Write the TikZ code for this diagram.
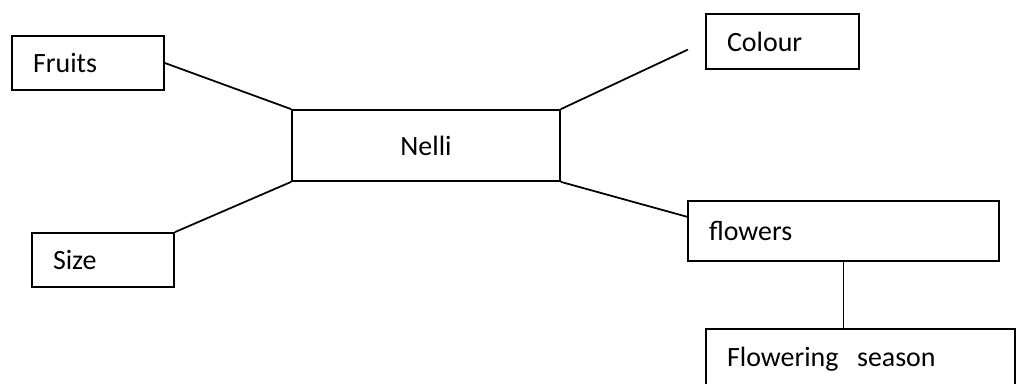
\documentclass[tikz,border=0pt]{standalone}
\usepackage{fontspec}
\setmainfont{Carlito}
\usetikzlibrary{calc}

\begin{document}
\begin{tikzpicture}[x=0.02cm,y=-0.02cm,
  box/.style={draw, line width=1pt, inner xsep=0.42cm, align=left,
    font=\fontsize{15.9}{19}\selectfont},
  link/.style={line width=1pt}]
  \useasboundingbox (0,0) rectangle (1016,383);
  % centre box
  \node[box, align=center, text width=4.52cm, minimum height=1.42cm] (nelli) at (426,145.5) {Nelli};
  % left side
  \node[box, text width=2.2cm, minimum height=1.08cm] (fruits) at (88,63) {Fruits};
  \node[box, text width=2.0cm, minimum height=1.08cm] (size) at (103,260) {Size};
  % right side
  \node[box, text width=2.22cm, minimum height=1.1cm] (colour) at (782.5,41.5) {Colour};
  \node[box, text width=5.38cm, minimum height=1.2cm] (flowers) at (843.5,231) {flowers};
  \node[box, text width=5.34cm, minimum height=1.2cm] (season) at (860.5,359) {Flowering~ season};
  \coordinate (flin) at ($(flowers.north west)!0.27!(flowers.south west)$);

  \draw[link] (fruits.east) -- (nelli.north west);
  \draw[link] (size.north east) -- (nelli.south west);
  \draw[link, shorten >=0.38cm] (nelli.north east) -- (colour.west);
  \draw[link] (nelli.south east) -- (flin);
  \draw[link] (flowers.south) -- (flowers.south |- season.north);
\end{tikzpicture}
\end{document}
